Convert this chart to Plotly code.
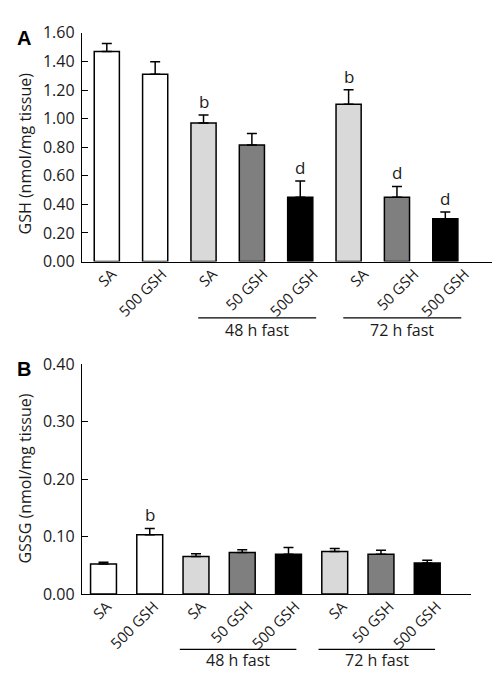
import plotly.graph_objects as go

# ---- data ----
labels = ["SA", "500 GSH", "SA", "50 GSH", "500 GSH", "SA", "50 GSH", "500 GSH"]
gsh = [1.47, 1.31, 0.97, 0.815, 0.45, 1.10, 0.45, 0.30]
gsh_err = [0.055, 0.088, 0.055, 0.081, 0.113, 0.102, 0.075, 0.046]
gssg = [0.052, 0.103, 0.065, 0.072, 0.069, 0.074, 0.069, 0.054]
gssg_err = [0.003, 0.011, 0.005, 0.005, 0.012, 0.005, 0.007, 0.0045]
sig_a = ["", "", "b", "", "d", "b", "d", "d"]
sig_b = ["", "b", "", "", "", "", "", ""]
groups = ["48 h fast", "72 h fast"]
group_members = [[2, 3, 4], [5, 6, 7]]
yticks_a = [0.0, 0.2, 0.4, 0.6, 0.8, 1.0, 1.2, 1.4, 1.6]
yticks_b = [0.0, 0.1, 0.2, 0.3, 0.4]

fills = ["#ffffff", "#ffffff", "#d9d9d9", "#7f7f7f", "#000000", "#d9d9d9", "#7f7f7f", "#000000"]
xs = list(range(len(labels)))
FONT = "Open Sans"
TXT = "#1a1a1a"
H = 676.0
W = 500.0

fig = go.Figure()

def add_bars(vals, errs, xa, ya, width):
    fig.add_trace(go.Bar(
        x=xs, y=vals, width=width, xaxis=xa, yaxis=ya,
        marker=dict(color=fills, line=dict(color="#000000", width=1.5)),
        error_y=dict(type="data", symmetric=False, array=errs,
                     arrayminus=[0] * len(errs), color="#000000",
                     thickness=1.5, width=5),
        showlegend=False, hoverinfo="skip"))

add_bars(gsh, gsh_err, "x", "y", 0.52)
add_bars(gssg, gssg_err, "x2", "y2", 0.56)

# invisible traces carrying the category-label axes
fig.add_trace(go.Scatter(x=xs, y=[0] * 8, xaxis="x3", yaxis="y", mode="markers",
                         marker=dict(opacity=0), showlegend=False, hoverinfo="skip"))
fig.add_trace(go.Scatter(x=xs, y=[0] * 8, xaxis="x4", yaxis="y2", mode="markers",
                         marker=dict(opacity=0), showlegend=False, hoverinfo="skip"))

# significance letters
for i, s in enumerate(sig_a):
    if s:
        fig.add_annotation(x=xs[i], y=gsh[i] + gsh_err[i], xref="x", yref="y",
                           text=s, showarrow=False, yanchor="bottom", yshift=0,
                           font=dict(family=FONT, size=17, color=TXT))
for i, s in enumerate(sig_b):
    if s:
        fig.add_annotation(x=xs[i], y=gssg[i] + gssg_err[i], xref="x2", yref="y2",
                           text=s, showarrow=False, yanchor="bottom", yshift=0,
                           font=dict(family=FONT, size=17, color=TXT))

# group brackets
def add_groups(xref, line_y, text_y, lo_off, hi_off):
    for g, members in zip(groups, group_members):
        x0 = members[0] - lo_off
        x1 = members[-1] + hi_off
        fig.add_shape(type="line", xref=xref, yref="paper", x0=x0, x1=x1,
                      y0=line_y, y1=line_y, line=dict(color="#000000", width=1.2))
        fig.add_annotation(x=(x0 + x1) / 2, y=text_y, xref=xref, yref="paper",
                           text=g, showarrow=False, yanchor="middle",
                           font=dict(family=FONT, size=16, color=TXT))

add_groups("x", 1 - 309 / H, 1 - 321 / H, 0.11, 0.33)
add_groups("x2", 1 - 651.5 / H, 1 - 663 / H, 0.35, 0.17)

# panel letters
for letter, yc in (("A", 20), ("B", 362)):
    fig.add_annotation(x=15.5 / W, y=1 - yc / H, xref="paper", yref="paper",
                       text=f"<b>{letter}</b>", showarrow=False, xanchor="center",
                       yanchor="middle",
                       font=dict(family="Liberation Sans", size=20, color="#000"))

# axis titles
for title, yc in (("GSH (nmol/mg tissue)", 139), ("GSSG (nmol/mg tissue)", 475)):
    fig.add_annotation(x=17 / W, y=1 - yc / H, xref="paper", yref="paper",
                       text=title, showarrow=False, textangle=-90,
                       xanchor="center", yanchor="middle",
                       font=dict(family=FONT, size=16, color=TXT))

axis_common = dict(showline=True, linecolor="#000000", linewidth=1.4, showgrid=False,
                   zeroline=False, tickfont=dict(family=FONT, size=16, color=TXT))
label_axis = dict(showline=False, showgrid=False, zeroline=False, ticks="",
                  tickangle=-45, tickvals=xs, ticktext=labels,
                  tickfont=dict(family=FONT, size=15, color=TXT))

fig.update_layout(
    width=500, height=676, margin=dict(l=0, r=0, t=0, b=0),
    paper_bgcolor="#ffffff", plot_bgcolor="#ffffff",
    xaxis=dict(domain=[74 / W, 489.3 / W], range=[-0.513, 8.075],
               showticklabels=False, ticks="", anchor="y", **axis_common),
    xaxis3=dict(domain=[74 / W, 489.3 / W], range=[-0.595, 7.645],
                overlaying="x", anchor="y", **label_axis),
    yaxis=dict(domain=[1 - 250.7 / H, 1 - 14.3 / H], range=[0, 1.6],
               tickvals=yticks_a, ticktext=[f"{v:.2f}" for v in yticks_a],
               ticks="inside", ticklen=6, tickcolor="#000", tickwidth=1.2,
               ticklabelstandoff=3, anchor="x", **axis_common),
    xaxis2=dict(domain=[74 / W, 462.7 / W], range=[-0.465, 7.94],
                showticklabels=False, ticks="", anchor="y2", **axis_common),
    xaxis4=dict(domain=[74 / W, 462.7 / W], range=[-0.531, 7.722],
                overlaying="x2", anchor="y2", **label_axis),
    yaxis2=dict(domain=[1 - 594.3 / H, 1 - 356.7 / H], range=[0, 0.4],
                tickvals=yticks_b, ticktext=[f"{v:.2f}" for v in yticks_b],
                ticks="inside", ticklen=6, tickcolor="#000", tickwidth=1.2,
                ticklabelstandoff=3, anchor="x2", **axis_common),
)

fig.write_html("out.html")
